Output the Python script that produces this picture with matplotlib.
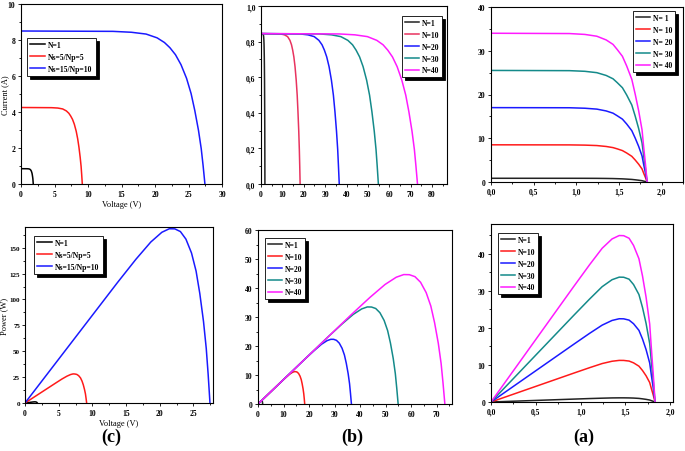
import matplotlib
matplotlib.use("Agg")
import matplotlib.pyplot as plt
from matplotlib.ticker import MultipleLocator, AutoMinorLocator, FuncFormatter

plt.rcParams['font.family'] = ['Liberation Serif', 'DejaVu Serif']
plt.rcParams['font.weight'] = 'bold'

# ---------------- data ----------------
# single cell (voltage per cell, also the x axis of panel (a))
v_cell = [0, 0.92, 1.10, 1.24, 1.35, 1.43, 1.48, 1.54, 1.59, 1.65, 1.69, 1.73, 1.77, 1.79, 1.81, 1.83]
i_cell = [0.85, 0.848, 0.843, 0.833, 0.812, 0.786, 0.757, 0.718, 0.663, 0.587, 0.502, 0.408, 0.298, 0.196, 0.102, 0]
p_cell = [0, 0.78, 0.93, 1.03, 1.10, 1.12, 1.12, 1.10, 1.06, 0.97, 0.85, 0.71, 0.53, 0.35, 0.18, 0]

# panel (c): series/parallel arrays
labels_c = ['N=1', 'Ns=5/Np=5', 'Ns=15/Np=10']
v_5x5 = [0, 4.58, 5.49, 6.22, 6.77, 7.14, 7.41, 7.69, 7.96, 8.24, 8.46, 8.65, 8.83, 8.97, 9.06, 9.15]
i_5x5 = [4.25, 4.24, 4.22, 4.17, 4.06, 3.93, 3.78, 3.59, 3.32, 2.93, 2.51, 2.04, 1.49, 0.98, 0.51, 0]
p_5x5 = [0, 19.4, 23.2, 25.9, 27.5, 28.1, 28.0, 27.6, 26.4, 24.2, 21.2, 17.6, 13.1, 8.8, 4.6, 0]
v_15x10 = [0, 13.73, 16.47, 18.67, 20.31, 21.41, 22.23, 23.06, 23.88, 24.71, 25.39, 25.94, 26.49, 26.90, 27.18, 27.45]
i_15x10 = [8.5, 8.48, 8.43, 8.33, 8.12, 7.86, 7.57, 7.18, 6.63, 5.87, 5.02, 4.08, 2.98, 1.96, 1.02, 0]
p_15x10 = [0, 116.4, 138.9, 155.5, 164.9, 168.3, 168.2, 165.6, 158.3, 144.9, 127.4, 105.8, 78.8, 52.6, 27.7, 0]

# panel (b): N cells in series
labels_b = ['N=1', 'N=10', 'N=20', 'N=30', 'N=40']
v_n10 = [0, 9.15, 10.98, 12.44, 13.54, 14.27, 14.82, 15.37, 15.92, 16.47, 16.93, 17.29, 17.66, 17.93, 18.12, 18.3]
v_n20 = [0, 18.3, 21.96, 24.89, 27.08, 28.55, 29.65, 30.74, 31.84, 32.94, 33.86, 34.59, 35.32, 35.87, 36.23, 36.6]
v_n30 = [0, 27.45, 32.94, 37.33, 40.63, 42.82, 44.47, 46.12, 47.76, 49.41, 50.78, 51.88, 52.98, 53.80, 54.35, 54.9]
v_n40 = [0, 36.6, 43.92, 49.78, 54.17, 57.10, 59.29, 61.49, 63.68, 65.88, 67.71, 69.17, 70.64, 71.74, 72.47, 73.2]
i_string = [0.845, 0.843, 0.838, 0.828, 0.807, 0.782, 0.752, 0.714, 0.659, 0.583, 0.499, 0.406, 0.296, 0.194, 0.101, 0]
p_n1 = [0, 0.77, 0.92, 1.03, 1.09, 1.12, 1.11, 1.10, 1.05, 0.96, 0.84, 0.70, 0.52, 0.35, 0.18, 0]
p_n10 = [0, 7.72, 9.20, 10.31, 10.93, 11.16, 11.15, 10.98, 10.49, 9.60, 8.44, 7.01, 5.22, 3.49, 1.84, 0]
p_n20 = [0, 15.43, 18.40, 20.61, 21.86, 22.31, 22.30, 21.95, 20.99, 19.21, 16.88, 14.03, 10.45, 6.97, 3.67, 0]
p_n30 = [0, 23.15, 27.61, 30.91, 32.79, 33.47, 33.44, 32.93, 31.48, 28.81, 25.32, 21.04, 15.67, 10.45, 5.51, 0]
p_n40 = [0, 30.86, 36.81, 41.22, 43.72, 44.63, 44.59, 43.91, 41.98, 38.41, 33.76, 28.06, 20.90, 13.94, 7.35, 0]

# panel (a): N cells in parallel
labels_a_iv = ['N= 1', 'N= 10', 'N= 20', 'N= 30', 'N= 40']
i_a20 = [17, 16.97, 16.86, 16.66, 16.24, 15.73, 15.13, 14.37, 13.26, 11.73, 10.03, 8.16, 5.95, 3.91, 2.04, 0]
i_a30 = [25.5, 25.45, 25.30, 24.99, 24.35, 23.59, 22.70, 21.55, 19.89, 17.60, 15.05, 12.24, 8.93, 5.87, 3.06, 0]
i_a40 = [34, 33.93, 33.73, 33.32, 32.47, 31.45, 30.26, 28.73, 26.52, 23.46, 20.06, 16.32, 11.90, 7.82, 4.08, 0]
p_a10 = [0, 7.76, 9.26, 10.37, 10.99, 11.22, 11.21, 11.04, 10.56, 9.66, 8.49, 7.06, 5.25, 3.51, 1.85, 0]
p_a20 = [0, 15.52, 18.52, 20.73, 21.99, 22.45, 22.43, 22.08, 21.11, 19.32, 16.98, 14.11, 10.51, 7.01, 3.70, 0]
p_a30 = [0, 23.29, 27.77, 31.10, 32.98, 33.67, 33.64, 33.12, 31.67, 28.98, 25.47, 21.17, 15.76, 10.52, 5.54, 0]
p_a40 = [0, 31.05, 37.03, 41.46, 43.97, 44.89, 44.85, 44.16, 42.22, 38.64, 33.96, 28.22, 21.02, 14.02, 7.39, 0]

colors5 = ['#222222', '#ff1a1a', '#1a1aff', '#148a8a', '#ff1aff']
W, H = 685, 452
LW = 1.1

fig = plt.figure(figsize=(W / 100, H / 100), dpi=100)


def add_axes(x0, y0, x1, y1):
    # pixel box -> figure fraction
    return fig.add_axes([x0 / W, 1 - y1 / H, (x1 - x0) / W, (y1 - y0) / H])


comma = FuncFormatter(lambda v, p: f'{v:.1f}'.replace('.', ','))


def style(ax, xlim, ylim, xstep, ystep, comma_x=False, comma_y=False):
    ax.set_xlim(*xlim)
    ax.set_ylim(*ylim)
    ax.xaxis.set_major_locator(MultipleLocator(xstep))
    ax.yaxis.set_major_locator(MultipleLocator(ystep))
    ax.xaxis.set_minor_locator(AutoMinorLocator(2))
    ax.yaxis.set_minor_locator(AutoMinorLocator(2))
    if comma_x:
        ax.xaxis.set_major_formatter(comma)
    if comma_y:
        ax.yaxis.set_major_formatter(comma)
    ax.tick_params(which='both', direction='out', labelsize=5.5, pad=1.5, width=0.6)
    ax.tick_params(which='major', length=2.5)
    ax.tick_params(which='minor', length=1.5)
    for s in ax.spines.values():
        s.set_linewidth(0.8)


def legend(ax, x, y, hl=2.0):
    leg = ax.legend(loc='upper left', bbox_to_anchor=(x / W, 1 - y / H),
                    bbox_transform=fig.transFigure, borderaxespad=0,
                    prop={'size': 5.5, 'weight': 'bold'}, fancybox=False,
                    shadow={'color': 'k', 'alpha': 1}, edgecolor='k', framealpha=1,
                    handlelength=hl, handletextpad=0.4, borderpad=0.4, labelspacing=0.5)
    leg.get_frame().set_linewidth(0.6)


# ---- (c) top: I-V ----
ax1 = add_axes(21, 5, 222, 185)
ax1.plot(v_cell, i_cell, color='k', lw=LW, label=labels_c[0])
ax1.plot(v_5x5, i_5x5, color='#ff1a1a', lw=LW, label=labels_c[1])
ax1.plot(v_15x10, i_15x10, color='#1a1aff', lw=LW, label=labels_c[2])
style(ax1, (0, 30), (0, 10), 5, 2)
ax1.set_xlabel('Voltage (V)', fontsize=6, labelpad=1.5)
ax1.set_ylabel('Current (A)', fontsize=6)
ax1.yaxis.set_label_coords((9.5 - 21) / 201, 0.5)
legend(ax1, 27, 39)

# ---- (b) top: I-V ----
ax2 = add_axes(261, 7, 447, 185)
colors_b = ['#222222', '#e8335f', '#1a1aff', '#148a8a', '#ff1aff']
for v, c, lab in zip([v_cell, v_n10, v_n20, v_n30, v_n40], colors_b, labels_b):
    ax2.plot(v, i_string, color=c, lw=LW, label=lab)
style(ax2, (0, 87), (0, 1.0), 10, 0.2, comma_y=True)
legend(ax2, 402, 17, hl=1.8)

# ---- (a) top: I-V ----
ax3 = add_axes(491, 8, 683, 183)
for i, c, lab in zip([i_cell, i_15x10, i_a20, i_a30, i_a40], colors5, labels_a_iv):
    ax3.plot(v_cell, i, color=c, lw=LW, label=lab)
style(ax3, (0, 2.25), (0, 40), 0.5, 10, comma_x=True)
legend(ax3, 633, 12, hl=1.8)

# ---- (c) bottom: P-V ----
ax4 = add_axes(25, 228, 213, 404)
ax4.plot(v_cell, p_cell, color='k', lw=LW, label=labels_c[0])
ax4.plot(v_5x5, p_5x5, color='#ff1a1a', lw=LW, label=labels_c[1])
ax4.plot(v_15x10, p_15x10, color='#1a1aff', lw=LW, label=labels_c[2])
style(ax4, (0, 27.9), (0, 170), 5, 25)
ax4.tick_params(axis='y', labelsize=5, pad=1)
ax4.set_xlabel('Voltage (V)', fontsize=6, labelpad=1.5)
ax4.set_ylabel('Power (W)', fontsize=6)
ax4.yaxis.set_label_coords((8.5 - 25) / 188, 0.5)
legend(ax4, 34, 237)

# ---- (b) bottom: P-V ----
ax5 = add_axes(258, 231, 452, 405)
for v, p, c, lab in zip([v_cell, v_n10, v_n20, v_n30, v_n40],
                        [p_n1, p_n10, p_n20, p_n30, p_n40], colors5, labels_b):
    ax5.plot(v, p, color=c, lw=LW, label=lab)
style(ax5, (0, 76), (0, 60), 10, 10)
legend(ax5, 265, 239, hl=1.8)

# ---- (a) bottom: P-V ----
ax6 = add_axes(491, 225, 673, 403)
for p, c, lab in zip([p_cell, p_a10, p_a20, p_a30, p_a40], colors5, labels_b):
    ax6.plot(v_cell, p, color=c, lw=LW, label=lab)
style(ax6, (0, 2.03), (0, 48), 0.5, 10, comma_x=True)
legend(ax6, 498, 234, hl=1.8)

# panel letters
for x, s in [(111, '(c)'), (352, '(b)'), (584, '(a)')]:
    fig.text(x / W, 1 - 437 / H, s, fontsize=13, fontweight='bold', ha='center', va='center')

fig.savefig('out.png', dpi=100)
